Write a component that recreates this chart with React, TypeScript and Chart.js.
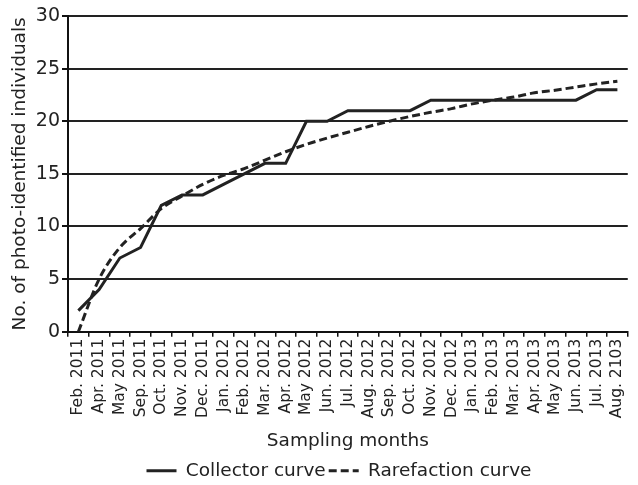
import React, { useEffect, useRef } from "react";
import { Chart, registerables } from "chart.js";

Chart.register(...registerables);

const categories = [
  "Feb. 2011", "Apr. 2011", "May 2011", "Sep. 2011", "Oct. 2011", "Nov. 2011", "Dec. 2011",
  "Jan. 2012", "Feb. 2012", "Mar. 2012", "Apr. 2012", "May 2012", "Jun. 2012", "Jul. 2012",
  "Aug. 2012", "Sep. 2012", "Oct. 2012", "Nov. 2012", "Dec. 2012", "Jan. 2013", "Feb. 2013",
  "Mar. 2013", "Apr. 2013", "May 2013", "Jun. 2013", "Jul. 2013", "Aug. 2103",
];

const collectorCurve = [2, 4, 7, 8, 12, 13, 13, 14, 15, 16, 16, 20, 20, 21, 21, 21, 21, 22, 22, 22, 22, 22, 22, 22, 22, 23, 23];

const rarefactionCurve = [
  0, 5.0, 8.0, 9.8, 11.7, 12.9, 14.0, 14.85, 15.5, 16.3, 17.1, 17.8, 18.4, 18.95,
  19.5, 20.0, 20.45, 20.85, 21.2, 21.65, 22.0, 22.3, 22.7, 22.95, 23.25, 23.55, 23.8,
];

const yTicks = [0, 5, 10, 15, 20, 25, 30];

const FONT = "'DejaVu Sans', 'Liberation Sans', Arial, sans-serif";
const INK = "#222222";

const shiftLegend = {
  id: "shiftLegend",
  afterLayout(chart: any) {
    const lg = chart.legend;
    if (lg) {
      lg.left += 20;
      lg.right += 20;
      lg.top += 5;
      lg.bottom += 5;
    }
  },
};

export default function App() {
  const ref = useRef<HTMLCanvasElement | null>(null);

  useEffect(() => {
    if (!ref.current) return;
    const chart = new Chart(ref.current, {
      type: "line",
      data: {
        labels: categories,
        datasets: [
          {
            label: "Collector curve",
            data: collectorCurve,
            borderColor: INK,
            backgroundColor: INK,
            borderWidth: 3,
            pointRadius: 0,
            tension: 0,
            fill: false,
          },
          {
            label: "Rarefaction curve",
            data: rarefactionCurve,
            borderColor: INK,
            backgroundColor: INK,
            borderWidth: 3,
            borderDash: [8, 4],
            pointRadius: 0,
            cubicInterpolationMode: "monotone",
            fill: false,
          },
        ],
      },
      options: {
        animation: false,
        responsive: true,
        maintainAspectRatio: false,
        layout: { padding: { top: 16, left: 0, right: 0, bottom: 0 } },
        plugins: {
          tooltip: { enabled: false },
          legend: {
            position: "bottom",
            labels: {
              usePointStyle: true,
              pointStyle: "line",
              pointStyleWidth: 30,
              color: INK,
              padding: 3,
              font: { family: FONT, size: 18.5 },
              generateLabels: (chart: any) => {
                const items = Chart.defaults.plugins.legend.labels.generateLabels(chart);
                return items.map((it: any) => {
                  const ds: any = chart.data.datasets[it.datasetIndex];
                  return { ...it, lineDash: ds.borderDash || [], lineWidth: 3, strokeStyle: INK, pointStyle: "line" };
                });
              },
            },
          },
        },
        scales: {
          x: {
            type: "category",
            offset: true,
            afterFit: (s: any) => {
              s.height = 121.8;
            },
            border: { display: true, color: "#111", width: 2 },
            grid: {
              display: true,
              drawOnChartArea: false,
              drawTicks: true,
              offset: true,
              tickLength: 5,
              color: "#111",
              lineWidth: 1.5,
            },
            ticks: {
              autoSkip: false,
              maxRotation: 90,
              minRotation: 90,
              padding: 2,
              color: INK,
              font: { family: FONT, size: 15.5 },
            },
            title: {
              display: true,
              text: "Sampling months",
              color: INK,
              font: { family: FONT, size: 18.5 },
              padding: { top: 0, bottom: 1.7 },
            },
          },
          y: {
            min: 0,
            max: 30,
            afterFit: (s: any) => {
              s.width = 68;
            },
            afterBuildTicks: (s: any) => {
              s.ticks = yTicks.map((v) => ({ value: v }));
            },
            border: { display: true, color: "#111", width: 2 },
            grid: {
              color: INK,
              lineWidth: 2,
              drawTicks: true,
              tickLength: 6,
              tickColor: "#111",
            },
            ticks: {
              padding: 2,
              color: INK,
              font: { family: FONT, size: 19 },
            },
            title: {
              display: true,
              text: "No. of photo-identified individuals",
              color: INK,
              font: { family: FONT, size: 18.5 },
              padding: { top: 9, bottom: 0 },
            },
          },
        },
      },
      plugins: [shiftLegend],
    });
    return () => chart.destroy();
  }, []);

  return (
    <div style={{ position: "absolute", left: 0, top: 0, width: 638, height: 485, background: "#fff" }}>
      <canvas ref={ref} />
    </div>
  );
}
